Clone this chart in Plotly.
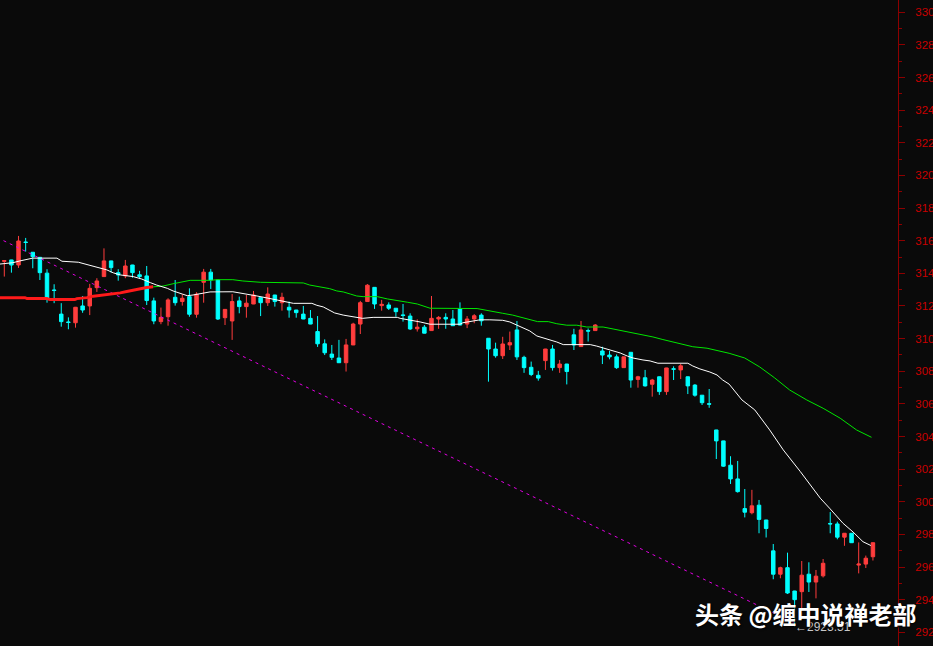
import plotly.graph_objects as go

# ---- candle data (index 1..123) ----
opens = [3147.3, 3148.2, 3145.1, 3159.2, 3152.9, 3149.8, 3140.1, 3129.8, 3115.0, 3110.2,
         3109.7, 3120.0, 3120.0, 3131.2, 3138.0, 3147.6, 3140.4, 3138.4, 3145.1, 3139.1,
         3138.4, 3123.1, 3110.4, 3113.4, 3125.3, 3122.7, 3125.7, 3114.9, 3134.5, 3140.7,
         3135.9, 3112.8, 3110.8, 3123.1, 3119.6, 3121.2, 3125.1, 3122.0, 3126.7, 3122.0,
         3119.2, 3117.5, 3115.0, 3112.4, 3104.3, 3096.8, 3090.5, 3088.1, 3085.2, 3096.1,
         3108.9, 3122.7, 3131.4, 3120.2, 3120.6, 3118.6, 3114.5, 3113.8, 3106.0, 3107.0,
         3104.9, 3112.0, 3113.0, 3112.0, 3118.1, 3108.9, 3112.0, 3114.4, 3100.2, 3093.6,
         3089.5, 3096.1, 3105.3, 3088.5, 3082.4, 3077.5, 3086.5, 3093.6, 3082.2, 3084.4,
         3102.3, 3095.1, 3104.9, 3104.9, 3092.4, 3089.9, 3088.8, 3082.2, 3091.6, 3075.0,
         3076.0, 3072.0, 3076.6, 3067.5, 3081.5, 3080.8, 3076.6, 3071.5, 3065.3, 3060.1,
         3044.0, 3037.3, 3022.4, 3014.0, 2995.8, 2993.3, 2997.9, 2988.8, 2969.9, 2955.6,
         2959.6, 2945.3, 2944.9, 2955.6, 2950.8, 2954.6, 2986.7, 2986.4, 2978.3, 2980.7,
         2961.2, 2961.8, 2966.3]
highs = [3148.0, 3148.3, 3162.9, 3161.7, 3153.0, 3150.0, 3142.5, 3133.3, 3121.7, 3113.0,
         3119.4, 3126.1, 3133.5, 3137.0, 3155.3, 3147.7, 3142.5, 3148.2, 3145.2, 3141.5,
         3144.5, 3125.1, 3119.0, 3124.7, 3135.9, 3127.2, 3130.8, 3128.4, 3142.7, 3142.7,
         3136.0, 3118.1, 3127.3, 3125.7, 3126.7, 3129.2, 3125.2, 3131.4, 3126.8, 3128.1,
         3122.7, 3117.6, 3120.0, 3117.5, 3113.8, 3099.5, 3096.1, 3099.2, 3099.8, 3109.7,
         3123.1, 3133.4, 3131.5, 3123.7, 3122.2, 3118.7, 3121.2, 3115.5, 3111.8, 3108.3,
         3126.1, 3113.8, 3115.5, 3117.5, 3122.2, 3113.8, 3115.0, 3115.5, 3100.3, 3097.5,
         3101.1, 3104.3, 3110.8, 3089.5, 3085.9, 3080.2, 3093.7, 3096.1, 3086.9, 3084.5,
         3106.0, 3110.8, 3106.2, 3108.9, 3095.0, 3092.4, 3090.3, 3088.9, 3091.7, 3077.2,
         3080.8, 3075.3, 3076.7, 3082.1, 3083.0, 3084.4, 3076.7, 3072.1, 3065.4, 3069.1,
         3044.1, 3037.4, 3027.9, 3025.0, 3007.8, 3007.3, 3001.1, 2988.9, 2974.1, 2960.2,
         2968.8, 2945.4, 2963.7, 2962.9, 2958.2, 2964.9, 2993.7, 2987.8, 2980.8, 2980.8,
         2975.1, 2967.0, 2975.0]
lows = [3138.0, 3140.4, 3143.3, 3153.3, 3143.1, 3135.9, 3122.0, 3121.7, 3107.3, 3105.7,
        3106.7, 3115.8, 3114.4, 3128.6, 3137.8, 3140.4, 3135.5, 3137.0, 3137.3, 3137.0,
        3120.6, 3108.8, 3108.8, 3107.9, 3120.2, 3120.2, 3113.4, 3112.8, 3122.0, 3130.4,
        3111.4, 3108.3, 3099.2, 3115.5, 3112.8, 3121.1, 3113.8, 3120.0, 3119.6, 3117.1,
        3112.8, 3112.8, 3111.9, 3108.8, 3094.9, 3089.9, 3086.9, 3085.1, 3079.8, 3096.0,
        3102.8, 3122.6, 3118.2, 3117.1, 3117.5, 3113.4, 3110.4, 3105.3, 3104.3, 3103.2,
        3104.8, 3106.0, 3106.0, 3107.8, 3108.2, 3106.4, 3109.4, 3107.9, 3073.6, 3088.3,
        3087.5, 3093.0, 3086.9, 3079.0, 3077.0, 3074.2, 3080.8, 3080.4, 3079.0, 3071.9,
        3093.0, 3095.0, 3098.2, 3104.8, 3084.4, 3087.3, 3081.4, 3082.1, 3069.9, 3069.9,
        3070.6, 3064.4, 3065.5, 3065.5, 3074.6, 3075.2, 3066.0, 3064.4, 3059.3, 3057.6,
        3026.2, 3021.4, 3010.9, 3005.6, 2990.4, 2992.3, 2980.7, 2978.1, 2952.5, 2953.1,
        2943.5, 2923.51, 2929.0, 2944.7, 2940.8, 2953.6, 2980.7, 2977.0, 2973.0, 2974.8,
        2956.1, 2959.4, 2964.0]
closes = [3147.8, 3145.1, 3159.8, 3158.9, 3150.2, 3140.4, 3124.7, 3129.5, 3110.4, 3109.9,
          3119.2, 3117.5, 3130.8, 3135.3, 3147.6, 3143.5, 3139.0, 3144.5, 3140.4, 3138.0,
          3123.3, 3110.8, 3113.0, 3123.7, 3122.0, 3124.7, 3114.9, 3127.2, 3140.7, 3135.9,
          3112.0, 3117.9, 3122.7, 3119.6, 3121.7, 3126.7, 3122.0, 3127.3, 3122.7, 3125.3,
          3117.5, 3115.9, 3112.0, 3108.9, 3096.8, 3091.3, 3088.5, 3085.2, 3096.1, 3108.9,
          3122.0, 3132.7, 3121.2, 3121.0, 3118.6, 3116.5, 3114.2, 3105.9, 3107.0, 3103.3,
          3112.4, 3113.0, 3112.0, 3107.9, 3108.3, 3112.0, 3114.0, 3110.9, 3093.6, 3089.5,
          3096.7, 3097.5, 3088.8, 3082.2, 3078.0, 3075.8, 3093.6, 3082.2, 3084.4, 3079.8,
          3096.1, 3105.3, 3104.6, 3108.3, 3089.9, 3088.8, 3082.2, 3088.8, 3074.6, 3076.6,
          3071.0, 3074.6, 3067.5, 3082.0, 3081.2, 3083.3, 3071.0, 3065.3, 3060.7, 3059.8,
          3037.3, 3021.8, 3014.0, 3006.2, 2993.6, 2997.5, 2989.2, 2983.6, 2955.6, 2959.6,
          2944.1, 2940.0, 2955.0, 2950.8, 2954.4, 2962.3, 2986.4, 2978.3, 2980.7, 2974.9,
          2961.8, 2965.4, 2974.9]
idx = list(range(1, len(opens) + 1))

# ---- moving-average lines (x = candle index) ----
white_x = [0, 2.2, 3.2, 5.0, 8.4, 9.1, 11.4, 12.6, 14.0, 15.4, 16.3, 17.3, 19.1, 20.3, 21.5,
           22.4, 23.9, 24.7, 26.0, 26.7, 27.5, 28.5, 29.9, 33.1, 34.1, 35.2, 36.5, 37.9, 39.3,
           40.4, 41.6, 44.2, 44.9, 45.8, 46.5, 47.4, 48.6, 49.8, 51.3, 52.8, 56.2, 56.6, 58.0,
           59.4, 60.8, 65.0, 65.4, 66.4, 67.8, 69.2, 71.0, 72.0, 73.0, 73.8, 74.8, 75.8, 76.7,
           77.6, 78.6, 79.5, 83.3, 84.2, 85.4, 86.5, 87.5, 88.5, 89.3, 90.7, 91.7, 92.8, 97.0,
           97.7, 98.7, 100.1, 101.1, 101.9, 102.8, 104.6, 106.4, 108.5, 110.4, 112.8, 114.2,
           115.6, 117.0, 118.8, 120.2, 121.6, 122.7]
white_v = [3145.5, 3146.5, 3147.6, 3149.3, 3149.3, 3147.4, 3146.8, 3145.3, 3144.0, 3142.1,
           3140.3, 3139.0, 3138.0, 3136.5, 3134.3, 3132.8, 3130.8, 3129.2, 3127.3, 3126.3,
           3126.7, 3127.5, 3128.6, 3128.7, 3128.0, 3127.3, 3126.1, 3124.9, 3123.7, 3122.4,
           3121.6, 3121.6, 3120.4, 3119.4, 3117.7, 3115.7, 3114.4, 3113.4, 3112.4, 3113.0,
           3113.0, 3112.4, 3111.4, 3110.2, 3108.8, 3108.8, 3109.7, 3110.4, 3111.5, 3111.5,
           3111.2, 3110.2, 3108.3, 3106.5, 3104.7, 3101.6, 3100.5, 3099.3, 3097.9, 3096.3,
           3096.3, 3095.4, 3093.8, 3092.4, 3091.2, 3089.3, 3088.1, 3086.9, 3086.3, 3084.9,
           3084.9, 3083.2, 3081.4, 3079.5, 3077.7, 3074.6, 3072.1, 3062.4, 3056.3, 3044.0,
           3031.8, 3018.5, 3010.3, 3002.2, 2995.6, 2986.8, 2981.5, 2975.5, 2973.2]

green_x = [21.9, 23.3, 24.7, 26.1, 27.1, 29.9, 30.9, 33.1, 33.7, 34.5, 37.0, 40.1, 40.7, 43.0,
           43.9, 45.3, 46.7, 47.7, 48.6, 49.6, 50.5, 51.4, 53.4, 54.8, 56.2, 57.6, 59.0, 60.8,
           67.4, 69.6, 71.0, 72.4, 73.8, 74.8, 75.9, 77.4, 78.6, 80.0, 81.4, 82.8, 85.1, 86.5,
           87.9, 89.3, 90.7, 92.1, 93.5, 94.9, 96.3, 97.7, 99.7, 101.1, 102.8, 105.0, 107.1,
           109.2, 111.3, 113.7, 116.0, 118.4, 120.7, 122.8]
green_v = [3131.7, 3132.2, 3133.6, 3134.7, 3135.7, 3135.7, 3136.1, 3136.1, 3135.7, 3135.3,
           3134.5, 3134.5, 3134.1, 3134.1, 3132.8, 3131.8, 3130.6, 3129.2, 3128.6, 3127.3,
           3126.1, 3125.7, 3125.7, 3124.3, 3123.1, 3122.3, 3121.2, 3118.6, 3118.4, 3116.9,
           3115.5, 3114.4, 3112.8, 3112.0, 3110.4, 3110.4, 3109.1, 3108.2, 3108.2, 3107.1,
           3107.1, 3105.9, 3104.7, 3103.4, 3102.2, 3101.0, 3099.4, 3097.9, 3096.3, 3095.0,
           3094.1, 3092.8, 3091.0, 3088.1, 3082.6, 3075.9, 3068.5, 3062.4, 3057.3, 3051.2,
           3044.0, 3039.5]

red_x = [0, 3.9, 4.2, 7.0, 7.4, 10.9, 11.2, 12.6, 13.5, 14.9, 16.3, 17.3, 18.2, 19.1, 20.1,
         21.0, 21.9]
red_v = [3125.1, 3125.1, 3124.5, 3124.5, 3123.9, 3123.9, 3124.5, 3125.1, 3126.0, 3126.6,
         3127.4, 3128.0, 3128.8, 3129.7, 3130.5, 3131.3, 3131.7]

trend_x = [0, 112]
trend_v = [3161.9, 2925.6]

low_idx = 112
low_value = 2923.51
watermark = "头条 @缠中说禅老部"

UP = "#ff3d3d"
DOWN = "#00ffff"
BG = "#0a0a0a"
AXIS = "#8c0000"
LABEL = "#c80000"

fig = go.Figure()
fig.add_trace(go.Scatter(x=trend_x, y=trend_v, mode="lines",
                         line=dict(color="#e000e0", width=1, dash="3px,4px"),
                         hoverinfo="skip", showlegend=False))
fig.add_trace(go.Scatter(x=red_x, y=red_v, mode="lines",
                         line=dict(color="#ff1a1a", width=3),
                         hoverinfo="skip", showlegend=False))
fig.add_trace(go.Scatter(x=green_x, y=green_v, mode="lines",
                         line=dict(color="#00e600", width=1),
                         hoverinfo="skip", showlegend=False))
fig.add_trace(go.Scatter(x=white_x, y=white_v, mode="lines",
                         line=dict(color="#ffffff", width=1),
                         hoverinfo="skip", showlegend=False))
fig.add_trace(go.Candlestick(
    x=idx, open=opens, high=highs, low=lows, close=closes,
    increasing=dict(line=dict(color=UP, width=1), fillcolor=UP),
    decreasing=dict(line=dict(color=DOWN, width=1), fillcolor=DOWN),
    whiskerwidth=0, hoverinfo="skip", showlegend=False))

fig.add_annotation(x=low_idx, y=low_value, xref="x", yref="y",
                   text="←" + f"{low_value:.2f}", showarrow=False,
                   xanchor="left", yanchor="middle", xshift=-2,
                   font=dict(family="Liberation Sans", size=12, color="#c8c8c8"))
fig.add_annotation(x=693 / 898, y=1 - 613 / 646, xref="paper", yref="paper",
                   text=watermark, showarrow=False, xanchor="left", yanchor="middle",
                   font=dict(family="Noto Sans CJK SC", size=24, color="#ffffff",
                             weight=600, shadow="1px 1px 2px #000000"))

fig.update_layout(
    width=933, height=646,
    margin=dict(l=0, r=35, t=0, b=0, autoexpand=False),
    paper_bgcolor=BG, plot_bgcolor=BG,
    showlegend=False, hovermode=False,
    xaxis=dict(range=[0.396, 126.52], visible=False, rangeslider=dict(visible=False),
               showgrid=False, zeroline=False, automargin=False),
    yaxis=dict(side="right", range=[2911.6, 3307.5], tick0=2920, dtick=20,
               automargin=False,
               showgrid=False, zeroline=False, showline=True, linecolor=AXIS, linewidth=1,
               ticks="outside", ticklen=6, tickcolor=AXIS, tickwidth=1,
               ticklabelstandoff=8,
               tickfont=dict(family="Liberation Sans", size=11.5, color=LABEL),
               minor=dict(dtick=10, ticks="outside", ticklen=3, tickcolor=AXIS)),
)

fig.write_html("out.html", config={"displayModeBar": False},
               post_script="document.body.style.margin='0';"
                           "document.body.style.padding='0';"
                           "document.body.style.overflow='hidden';"
                           "document.body.style.background='#0a0a0a';")
